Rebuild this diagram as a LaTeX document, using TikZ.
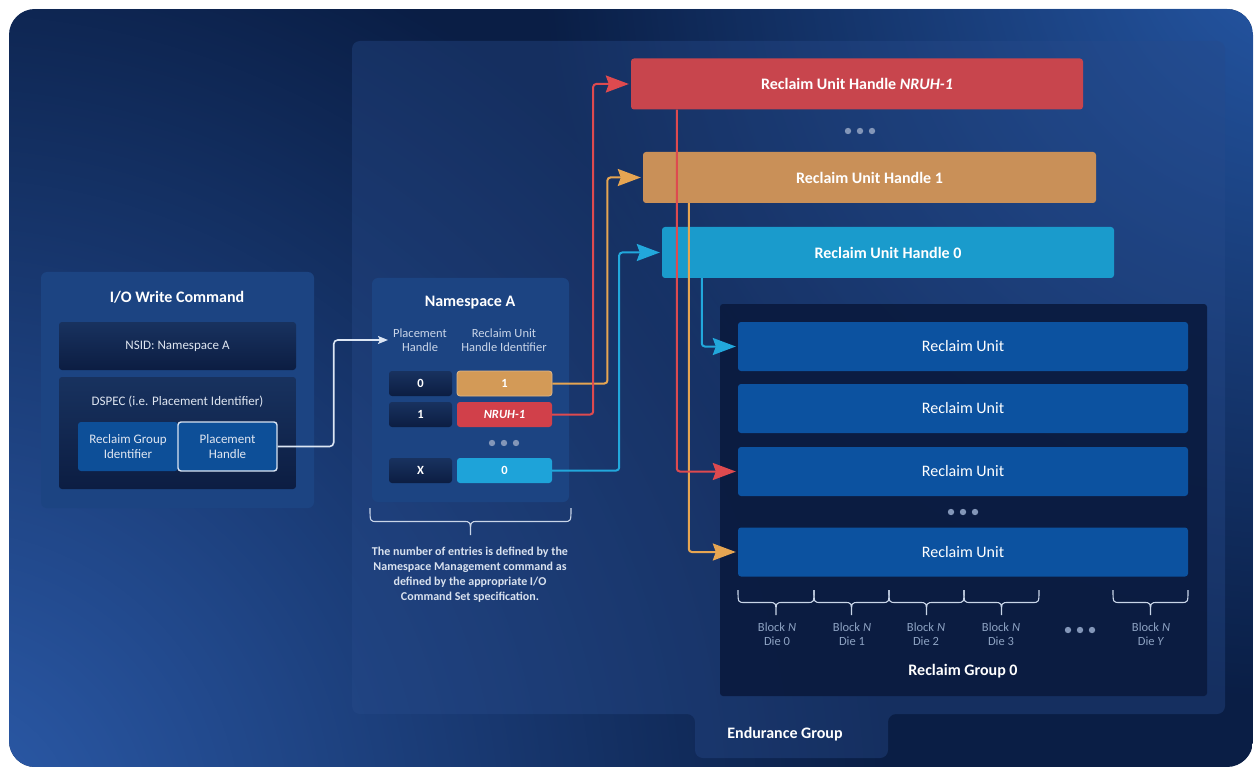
\documentclass[tikz,border=0pt]{standalone}
\usepackage{fontspec}
\setmainfont{Carlito}
\usetikzlibrary{arrows.meta,fadings}

% palette
\definecolor{bgbase}{HTML}{0A1E45}
\definecolor{glowbl}{HTML}{2D5DAD}
\definecolor{glowtr}{HTML}{2659A8}
\definecolor{panelc}{HTML}{274A8A}
\definecolor{groupc}{HTML}{0A1A3E}
\definecolor{cardc}{HTML}{1C4482}
\definecolor{celltop}{HTML}{18325F}
\definecolor{cellbot}{HTML}{0C1D42}
\definecolor{rublue}{HTML}{0C52A0}
\definecolor{fieldblue}{HTML}{0D4F98}
\definecolor{ruhred}{HTML}{C8454D}
\definecolor{ruhorange}{HTML}{C99058}
\definecolor{ruhcyan}{HTML}{1A9BCC}
\definecolor{cellred}{HTML}{D1404A}
\definecolor{cellorange}{HTML}{D39A57}
\definecolor{cellcyan}{HTML}{1EA3D9}
\definecolor{linered}{HTML}{DE4A4F}
\definecolor{lineorange}{HTML}{E6A552}
\definecolor{linecyan}{HTML}{22A8DC}
\definecolor{softtext}{HTML}{C9D5E8}
\definecolor{dimtext}{HTML}{8DA2C2}
\definecolor{dotc}{HTML}{8396B8}
\definecolor{wire}{HTML}{DCE6F4}

\tikzfading[name=glow, inner color=transparent!0, outer color=transparent!100]

\newcommand\sz[2]{\fontsize{#1}{#2}\selectfont}

% horizontal curly brace opening downwards: x1, x2, top y, depth
\newcommand\downbrace[4]{%
  \pgfmathsetmacro\bxm{(#1+#2)/2}%
  \pgfmathsetmacro\bym{#3+#4/2}%
  \pgfmathsetmacro\byb{#3+#4}%
  \draw[bracestyle] (#1,#3) .. controls (#1,\bym) and (#1,\bym) .. (#1+7,\bym)
      -- (\bxm-7,\bym) .. controls (\bxm,\bym) and (\bxm,\bym) .. (\bxm,\byb)
      .. controls (\bxm,\bym) and (\bxm,\bym) .. (\bxm+7,\bym)
      -- (#2-7,\bym) .. controls (#2,\bym) and (#2,\bym) .. (#2,#3);%
}

\tikzset{
  txt/.style={text=white, align=center, inner sep=0pt},
  title/.style={txt, font=\sz{16}{19}\bfseries},
  box/.style={txt, rounded corners=3pt},
  card/.style={box, fill=cardc, rounded corners=6pt},
  darkcell/.style={box, top color=celltop, bottom color=cellbot},
  rubox/.style={box, fill=rublue, minimum width=450, minimum height=49, font=\sz{16}{19}},
  ruhbox/.style={box, minimum width=452, minimum height=51, font=\sz{16}{19}\bfseries},
  field/.style={box, fill=fieldblue, minimum width=99, minimum height=49,
    font=\sz{13}{15}, text=softtext!60!white},
  nscell/.style={box, minimum height=25, font=\sz{12.5}{15}\bfseries},
  header/.style={txt, text=softtext, font=\sz{12.5}{14.5}},
  blocklbl/.style={txt, text=dimtext, font=\sz{12.5}{14}},
  dot/.style={fill=dotc},
  bracestyle/.style={draw=softtext, line width=1.1pt},
  link/.style={line width=2pt, rounded corners=3pt, shorten >=2pt,
    -{Stealth[length=23pt,width=17pt,inset=3pt]}},
  redlink/.style={link, draw=linered},
  orangelink/.style={link, draw=lineorange},
  cyanlink/.style={link, draw=linecyan},
  wirelink/.style={draw=wire, line width=1.6pt, rounded corners=4pt, shorten >=5pt,
    -{Stealth[length=10pt,width=8pt,inset=2pt]}},
}

\begin{document}
\begin{tikzpicture}[x=1pt,y=-1pt]
\useasboundingbox (0,0) rectangle (1255,767);

% ---- backdrop with soft glows
\begin{scope}
  \clip[rounded corners=26pt] (9,9) rectangle (1253,767);
  \fill[bgbase] (9,9) rectangle (1253,767);
  \fill[glowbl, path fading=glow] (-60,830) circle (950);
  \fill[glowtr, path fading=glow] (1300,-60) circle (760);
\end{scope}

% ---- endurance group panel with its tab
\fill[panelc, opacity=.4, rounded corners=8pt]
  (352,41) -- (1225,41) -- (1225,714) -- (888,714) -- (888,758)
  -- (695,758) -- (695,714) -- (352,714) -- cycle;
\node[title] (eg) at (785,734) {Endurance Group};

% ---- reclaim group
\node[box, fill=groupc, opacity=.9, minimum width=487, minimum height=392] (rg) at (963.5,500) {};
\node[title] (rgname) at (963,671) {Reclaim Group 0};

\node[rubox] (ru1) at (963,346.5) {Reclaim Unit};
\node[rubox] (ru2) at (963,408.5) {Reclaim Unit};
\node[rubox] (ru3) at (963,471.5) {Reclaim Unit};
\node[rubox] (ru4) at (963,552) {Reclaim Unit};
\foreach \dx in {-12,0,12} \fill[dot] (963+\dx,512) circle (3.2);

% dies under the reclaim units
\downbrace{738}{814}{590}{25}
\downbrace{814}{889}{590}{25}
\downbrace{889}{964}{590}{25}
\downbrace{964}{1039}{590}{25}
\downbrace{1113}{1188}{590}{25}
\node[blocklbl] (b0) at (777,634) {Block \textit{N}\\Die 0};
\node[blocklbl] (b1) at (852,634) {Block \textit{N}\\Die 1};
\node[blocklbl] (b2) at (926,634) {Block \textit{N}\\Die 2};
\node[blocklbl] (b3) at (1001,634) {Block \textit{N}\\Die 3};
\node[blocklbl] (by) at (1151,634) {Block \textit{N}\\Die \textit{Y}};
\foreach \dx in {-12,0,12} \fill[dot] (1080+\dx,630) circle (3.2);

% ---- reclaim unit handles
\node[ruhbox, fill=ruhred] (ruhN) at (857,84) {Reclaim Unit Handle \textit{NRUH-1}};
\foreach \dx in {-12,0,12} \fill[dot] (860+\dx,131) circle (3.2);
\node[ruhbox, fill=ruhorange, minimum width=453] (ruh1) at (869.5,177.5) {Reclaim Unit Handle 1};
\node[ruhbox, fill=ruhcyan] (ruh0) at (888,252.5) {Reclaim Unit Handle 0};

% ---- I/O write command
\node[card, minimum width=273, minimum height=236] (io) at (177.5,390) {};
\node[title] (iotitle) at (177,297) {I/O Write Command};
\node[darkcell, minimum width=237, minimum height=48, font=\sz{13}{15}, text=softtext!60!white]
  (nsid) at (177.5,346) {NSID: Namespace A};
\node[darkcell, minimum width=237, minimum height=112] (dspec) at (177.5,433) {};
\node[txt, font=\sz{13}{15}, text=softtext!60!white] (dspectxt) at (177.5,402)
  {DSPEC (i.e. Placement Identifier)};
\node[field, minimum width=100] (rgi) at (128,446.5) {Reclaim Group\\Identifier};
\node[field, draw=wire!80!softtext, line width=1.4pt] (ph) at (227.5,446.5) {Placement\\Handle};

% ---- namespace A
\node[card, minimum width=197, minimum height=224] (ns) at (470.5,390) {};
\node[title] (nstitle) at (470,303) {Namespace A};
\node[header] (hdrph) at (420,340) {Placement\\Handle};
\node[header] (hdrru) at (504,340) {Reclaim Unit\\Handle Identifier};

\node[darkcell, nscell, minimum width=63] (ph0) at (420.5,383.5) {0};
\node[darkcell, nscell, minimum width=63] (ph1) at (420.5,414.5) {1};
\node[darkcell, nscell, minimum width=63] (phx) at (420.5,470.5) {X};
\node[nscell, fill=cellorange, draw=cellorange!70!white, line width=.8pt, minimum width=95] (id1) at (504.5,383.5) {1};
\node[nscell, fill=cellred, minimum width=95] (idN) at (504.5,414.5) {\textit{NRUH-1}};
\node[nscell, fill=cellcyan, minimum width=95] (id0) at (504.5,470.5) {0};
\foreach \dx in {-12,0,12} \fill[dot] (504+\dx,443) circle (3.2);

\downbrace{370}{571}{508}{27}
\node[txt, text=softtext!70!white, font=\sz{12}{15}\bfseries] (note) at (470,575)
  {The number of entries is defined by the\\Namespace Management command as\\defined by the appropriate I/O\\Command Set specification.};

% ---- connectors
\draw[wirelink] (ph.east) -- ++(56,0) |- (hdrph.west);

\draw[orangelink] (id1.east) -- ++(55,0) |- (ruh1.west);
\draw[redlink] (idN.east) -- ++(41,0) |- (ruhN.west);
\draw[cyanlink] (id0.east) -- ++(67,0) |- (ruh0.west);

\draw[cyanlink] ([xshift=40pt]ruh0.south west) |- (ru1.west);
\draw[orangelink] ([xshift=46pt]ruh1.south west) |- (ru4.west);
\draw[redlink] ([xshift=46pt]ruhN.south west) |- (ru3.west);
\end{tikzpicture}
\end{document}
